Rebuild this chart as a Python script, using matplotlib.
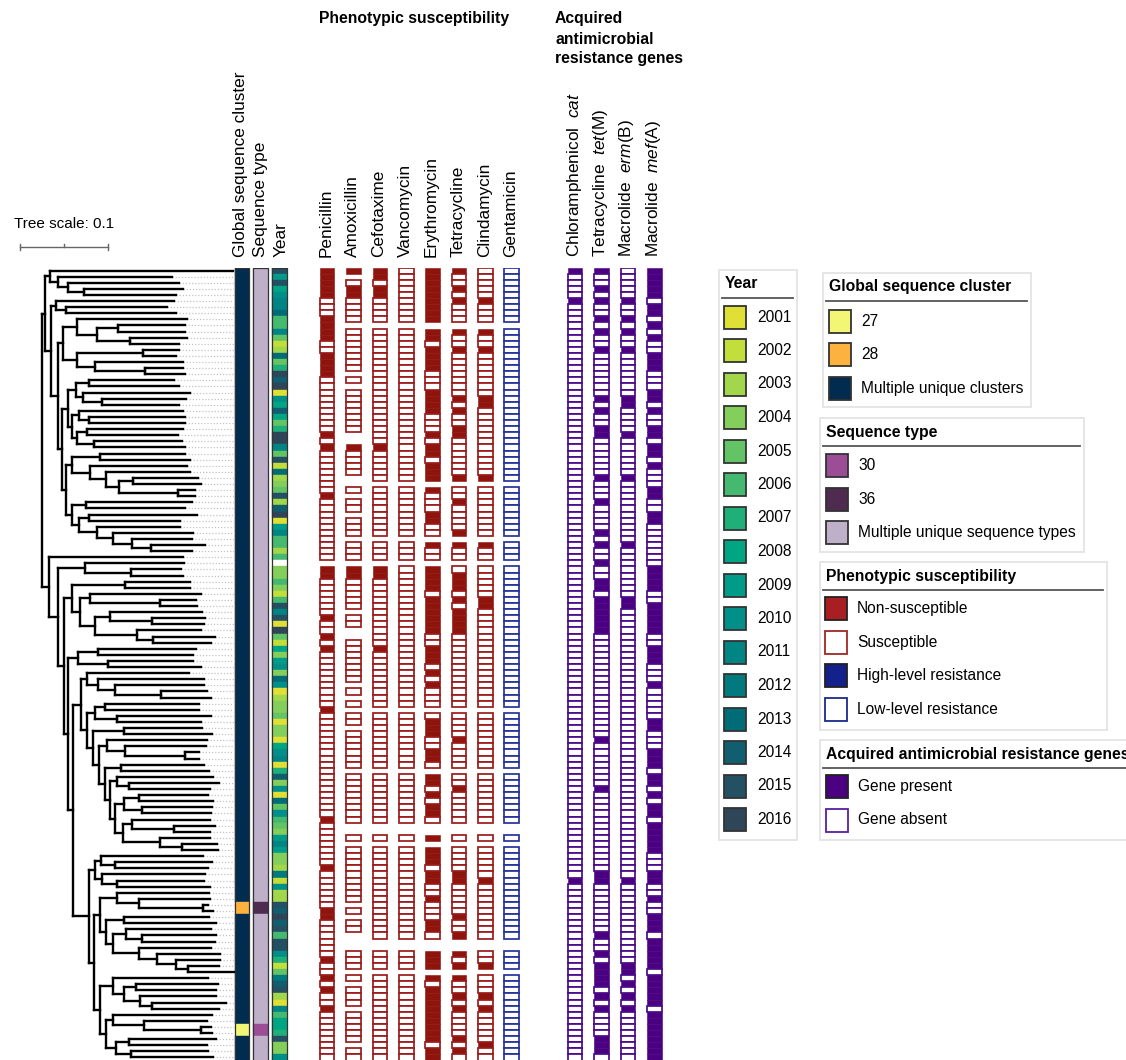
import matplotlib
matplotlib.use('Agg')
import matplotlib.pyplot as plt
from matplotlib.patches import Rectangle
from matplotlib.collections import LineCollection

plt.rcParams['font.family'] = ['Liberation Sans', 'DejaVu Sans']
plt.rcParams['mathtext.fontset'] = 'custom'
plt.rcParams['mathtext.it'] = 'Liberation Sans:italic'
plt.rcParams['mathtext.rm'] = 'Liberation Sans'

N_ROWS = 130

def runs(code):
    # "5R 3S 1." -> "RRRRRSSS."
    out = ''
    for tok in code.split():
        out += tok[-1] * int(tok[:-1])
    return out[:N_ROWS].ljust(N_ROWS, '.')

def n(depth, *kids):
    # internal tree node; leaves are plain depths (subst./site from root)
    return (depth, list(kids))

# ---------------- data ----------------
top_a = n(0.009, 0.217, n(0.018, 0.148, n(0.030, 0.156, n(0.048, 0.161, 0.153))))
c5_7 = n(0.016, 0.150, n(0.028, 0.142, 0.153))
c8_12 = n(0.040, 0.165, n(0.063, n(0.087, 0.163, 0.163), n(0.100, 0.165, 0.156)))
c13_17 = n(0.040, n(0.115, 0.156, 0.153), n(0.061, 0.160, n(0.117, 0.160, 0.163)))
c18_22 = n(0.039, n(0.054, 0.150, 0.156), n(0.047, 0.168, n(0.069, 0.164, 0.156)))
c23_29 = n(0.034, n(0.042, 0.161, n(0.054, 0.163, 0.163)),
           n(0.040, n(0.052, 0.160, 0.155), n(0.059, 0.159, 0.163)))
c30_37 = n(0.034, n(0.066, 0.163, 0.169),
           n(0.055, 0.165, n(0.073, 0.168, n(0.088, n(0.104, 0.178, 0.181), n(0.155, 0.174, 0.174)))))
c38_46 = n(0.034, n(0.050, 0.171, 0.163),
           n(0.042, n(0.054, 0.176, 0.157),
             n(0.063, 0.157, n(0.081, 0.172, n(0.103, 0.171, n(0.124, 0.185, 0.171))))))
clade_a = n(0.004, top_a,
            n(0.011, c5_7,
              n(0.018, n(0.024, c8_12, c13_17),
                n(0.023, n(0.030, c18_22, c23_29), n(0.028, c30_37, c38_46)))))

c48_50 = n(0.049, 0.162, n(0.102, 0.158, 0.160))
c51_61 = n(0.034, n(0.095, 0.169, 0.169),
           n(0.044, n(0.055, 0.181, n(0.134, 0.175, 0.176)),
             n(0.060, n(0.078, 0.182, n(0.125, 0.186, 0.184)),
               n(0.108, 0.181, n(0.127, 0.197, 0.192)))))
c62_65 = n(0.041, n(0.064, 0.175, 0.172), n(0.075, 0.172, 0.181))
c66_70 = n(0.051, 0.167, n(0.064, 0.184, n(0.083, 0.184, n(0.136, 0.188, 0.192))))
c71_74 = n(0.061, n(0.072, 0.179, 0.179), n(0.085, 0.192, 0.181))
c77_80 = n(0.074, 0.188, n(0.095, 0.187, n(0.163, 0.179, 0.179)))
c83_85 = n(0.085, 0.195, n(0.099, 0.201, 0.191))
c86_95 = n(0.083, n(0.094, n(0.111, 0.189, 0.195), n(0.114, 0.194, 0.192)),
           n(0.092, n(0.103, 0.191, n(0.150, 0.197, 0.191)),
             n(0.134, 0.191, n(0.159, 0.199, 0.200))))
c75_95 = n(0.058, n(0.093, 0.182, 0.194),
           n(0.065, c77_80, n(0.072, n(0.090, 0.184, 0.190), n(0.078, c83_85, c86_95))))
c66_95 = n(0.045, c66_70, n(0.051, c71_74, c75_95))
c96_101 = n(0.061, n(0.067, 0.183, n(0.083, 0.194, 0.189)),
            n(0.069, 0.185, n(0.086, 0.184, 0.191)))
c102_105 = n(0.085, 0.190, n(0.111, 0.191, n(0.183, 0.189, 0.195)))
c106_115 = n(0.073, n(0.093, 0.190, 0.198),
             n(0.081, n(0.096, 0.192, n(0.114, 0.198, 0.197)),
               n(0.110, 0.192, n(0.131, 0.203, n(0.153, 0.203, n(0.166, 0.202, 0.219))))))
c116_121 = n(0.081, 0.189, n(0.094, n(0.107, 0.200, 0.198),
                             n(0.112, 0.198, n(0.125, 0.209, 0.201))))
c122_129 = n(0.073, n(0.081, 0.193, n(0.116, 0.188, n(0.181, 0.192, 0.194))),
             n(0.084, n(0.099, 0.198, 0.188), n(0.101, 0.189, 0.195)))
c96_129 = n(0.054, c96_101, n(0.059, n(0.066, c102_105, c106_115), n(0.066, c116_121, c122_129)))
clade_b = n(0.008, 0.161,
            n(0.018, c48_50,
              n(0.025, c51_61,
                n(0.030, c62_65, n(0.036, c66_95, c96_129)))))
tree = n(0.0, clade_a, clade_b)

cluster = runs("104M 2B 18M 2A 4M")
seqtype = runs("104M 2D 18M 2C 4M")

years = [2015, 2009, 2015, 2008, 2010, 2011, 2011, 2013, 2006, 2006,
         2011, 2005, 2002, 2003, 2013, 2005, 2007, 2016, 2014, 2016,
         2001, 2010, 2008, 2014, 2008, 2005, 2007, 2016, 2016, 2011,
         2005, 2015, 2002, 2013, 2003, 2004, 2005, 2015, 2003, 2014,
         2016, 2001, 2009, 2011, 2006, 2006, 2003, 2006, 0, 2004,
         2004, 2006, 2004, 2002, 2006, 2015, 2011, 2015, 2001, 2016,
         2005, 2002, 2008, 2004, 2009, 2010, 2004, 2013, 2010, 2001,
         2003, 2004, 2004, 2005, 2001, 2004, 2004, 2001, 2008, 2010,
         2011, 2001, 2007, 2014, 2004, 2010, 2001, 2013, 2005, 2010,
         2006, 2005, 2004, 2009, 2011, 2009, 2004, 2004, 2003, 2012,
         2002, 2010, 2003, 2003, 2015, 2014, 2016, 2014, 2015, 2006,
         2015, 2015, 2010, 2007, 2002, 2005, 2012, 2014, 2015, 2003,
         2001, 2011, 2006, 2008, 2008, 2007, 2015, 2004, 2004, 2010]

# R = non-susceptible, S = susceptible, L = low-level resistance, . = no data
pheno_names = ['Penicillin', 'Amoxicillin', 'Cefotaxime', 'Vancomycin',
               'Erythromycin', 'Tetracycline', 'Clindamycin', 'Gentamicin']
penicillin = runs("5R 3S 4R 2S 4R 9S 1R 1S 1R 7S 1R 10S 1. 2R 6S 1R 2S 1R 1S 1R 9S 1R 17S 1R "
                  "7S 1R 6S 2R 6S 1R 2S 1R 1S 1R 2S 1R 8S")
amoxicillin = runs("1R 1. 1S 2R 4S 1. 7S 1. 1S 1. 7S 2. 1R 4S 2. 1S 1. 2S 1. 3S 1. 3S 1. 2R 5S 1. "
                   "2S 2. 7S 1. 1S 1. 1S 1. 2S 1. 6S 1. 8S 2. 1S 1. 9S 1. 1S 1. 2S 3. 3S 1. 1S 1. "
                   "3S 1. 5S 1. 2S")
cefotaxime = runs("2R 1S 2R 4S 1. 19S 1R 5S 1. 8S 1. 3S 1. 2R 11S 1R 9S 1. 9S 1. 8S 2. 1S 1. "
                  "15S 2. 3S 1. 14S")
vancomycin = runs("9S 1. 25S 1. 8S 1. 3S 1. 23S 1. 9S 1. 8S 2. 1S 1. 15S 2. 3S 1. 14S")
erythromycin = runs("9R 1. 2R 1S 4R 3S 4R 3S 1R 1S 2R 1S 3R 1. 1R 3S 2R 2S 1. 1R 2S 1. 4R 1S 6R "
                    "2S 3R 1S 1R 1S 1R 3S 1. 1S 3R 2S 2R 1S 1. 2R 1S 1R 1S 2R 1S 2. 1R 1. 3R 1S "
                    "2R 2S 1R 3S 2R 1S 2. 3R 1. 1R 1S 9R 1S 2R")
tetracycline = runs("1R 2S 1R 1S 1R 3S 1. 1R 2S 1R 7S 1R 1S 1R 2S 2R 6S 1R 1. 2S 1R 4S 1R 1. 1R "
                    "2S 1. 1S 3R 1S 1R 1S 4R 12S 1. 4S 1R 4S 1. 2S 1R 5S 2. 1S 1. 4S 2R 5S 1R 2S "
                    "1R 2. 1R 1S 1R 1. 1R 2S 1R 1S 1R 4S 1R 1S 1R 1S")
clindamycin = runs("5S 1R 3S 1. 1R 2S 1R 7S 2R 11S 1R 1. 8S 1. 1R 2S 1. 5S 2R 16S 1. 9S 1. 8S "
                   "2. 1S 1. 5S 1R 9S 2. 2S 1R 1. 3S 1R 1S 1R 5S 1R 2S")
gentamicin = runs("9L 1. 25L 1. 8L 1. 3L 1. 23L 1. 9L 1. 8L 2. 1L 1. 15L 2. 3L 1. 14L")
pheno = [penicillin, amoxicillin, cefotaxime, vancomycin,
         erythromycin, tetracycline, clindamycin, gentamicin]

# P = gene present, A = gene absent
gene_names = ['Chloramphenicol  $cat$', 'Tetracycline  $tet$(M)',
              'Macrolide  $erm$(B)', 'Macrolide  $mef$(A)']
cat_gene = runs("1P 4A 1P 94A 1P 29A")
tetM = runs("1P 2A 1P 1A 1P 2A 1P 1A 1P 2A 1P 7A 1P 1A 1P 2A 2P 6A 1P 3A 1P 4A 1P 1A 1P 2A "
            "1P 2A 2P 1A 6P 17A 1P 7A 1P 13A 2P 8A 1P 2A 1P 1A 4P 1A 1P 1A 1P 4A 3P 1A")
ermB = runs("5A 1P 2A 1P 1A 1P 2A 1P 7A 2P 4A 1P 6A 1P 10A 1P 8A 2P 44A 1P 13A 2P 1A 1P 1A "
            "1P 1A 1P 8A")
mefA = runs("5P 1A 2P 1A 1P 1A 1P 2A 3P 3A 2P 1A 1P 2A 2P 1A 2P 1A 1P 3A 2P 2A 2P 7A 4P 2A "
            "5P 2A 3P 3A 1P 5A 2P 3A 3P 1A 2P 1A 1P 1A 2P 1A 5P 3A 2P 2A 1P 2A 3P 1A 5P 1A "
            "5P 1A 8P")
genes = [cat_gene, tetM, ermB, mefA]

year_list = list(range(2001, 2017))
year_colors = ['#e0df36', '#c2de3b', '#a2d74b', '#84cf5b', '#63c466', '#45b96f',
               '#1faf79', '#00a584', '#009c89', '#009089', '#008584', '#00797f',
               '#006c78', '#105e6f', '#245064', '#2f4558']
cluster_labels = {'A': '27', 'B': '28', 'M': 'Multiple unique clusters'}
cluster_colors = {'A': '#f3f574', 'B': '#fdb240', 'M': '#022b50'}
seq_labels = {'C': '30', 'D': '36', 'M': 'Multiple unique sequence types'}
seq_colors = {'C': '#9b4e95', 'D': '#4f2b52', 'M': '#bdb0c8'}

# ---------------- layout ----------------
W, H = 1126, 1060
TOP = 267.5          # pixel row where the first row starts
PITCH = 6.1          # pixels per row
ROOT_X, PX_PER_UNIT = 41.7, 880
LEADER_END = 234
col_cluster, col_seq, col_year = 242.2, 260.7, 279.8
pheno_x0, gene_x0, col_step = 327, 575, 26.4
cell_w = 14.6

fig = plt.figure(figsize=(W / 100, H / 100), dpi=100)
ax = fig.add_axes([0, 0, 1, (H - TOP) / H])
ax.set_xlim(0, W)
ax.set_ylim(-0.5 + (H - TOP) / PITCH, -0.5)
ax.axis('off')

# ---- tree ----
segs, tips = [], []
counter = [0]

def X(d):
    return ROOT_X + PX_PER_UNIT * d

def layout(node, parent_d):
    if isinstance(node, tuple):
        d, kids = node
        ys = [layout(k, d) for k in kids]
        y = (ys[0] + ys[-1]) / 2
        segs.append([(X(d), ys[0]), (X(d), ys[-1])])
    else:
        d = node
        y = counter[0]
        counter[0] += 1
        tips.append((X(d), y))
    if parent_d is not None:
        segs.append([(X(parent_d), y), (X(d), y)])
    return y

layout(tree, None)
leaders = [[(tx, ty), (LEADER_END, ty)] for tx, ty in tips if tx < LEADER_END]
ax.add_collection(LineCollection(leaders, colors='#c4c4c4', linewidths=0.9,
                                 linestyles=(0, (1, 1.5))))
ax.add_collection(LineCollection(segs, colors='black', linewidths=1.7,
                                 capstyle='projecting'))

# ---- metadata strips ----
def strip(xc, w, colors):
    for i, c in enumerate(colors):
        ax.add_patch(Rectangle((xc - w / 2, i - 0.5), w, 1, fc=c, ec=c, lw=0.3))
    ax.add_patch(Rectangle((xc - w / 2, -0.5), w, len(colors), fc='none',
                           ec='#333333', lw=0.9))

strip(col_cluster, 13.7, [cluster_colors[c] for c in cluster])
strip(col_seq, 14.7, [seq_colors[c] for c in seqtype])
strip(col_year, 15, [year_colors[year_list.index(y)] if y else 'white' for y in years])

# ---- susceptibility / gene cells ----
cell_style = {
    'R': dict(fc='#8f140d', ec='#8f140d', lw=0.4),
    'S': dict(fc='white', ec='#9b1b1b', lw=1.25),
    'L': dict(fc='white', ec='#25329a', lw=1.25),
    'P': dict(fc='#4b0082', ec='#4b0082', lw=0.4),
    'A': dict(fc='white', ec='#4b0a8a', lw=1.25),
}

def cells(xc, col):
    for i, c in enumerate(col):
        if c == '.':
            continue
        ax.add_patch(Rectangle((xc - cell_w / 2, i - 0.5), cell_w, 1, **cell_style[c]))

for k, col in enumerate(pheno):
    cells(pheno_x0 + k * col_step, col)
for k, col in enumerate(genes):
    cells(gene_x0 + k * col_step, col)

# ---------------- overlay: headers, scale, legends ----------------
ov = fig.add_axes([0, 0, 1, 1])
ov.set_xlim(0, W)
ov.set_ylim(H, 0)
ov.axis('off')

label_fs = 12.4
header_y = 257
for xc, lab in [(col_cluster - 1.5, 'Global sequence cluster'), (col_seq, 'Sequence type'),
                (col_year + 1.5, 'Year')]:
    ov.text(xc, header_y, lab, rotation=90, ha='center', va='bottom', fontsize=label_fs)
for k, lab in enumerate(pheno_names):
    ov.text(pheno_x0 + k * col_step - 1, header_y, lab, rotation=90, ha='center',
            va='bottom', fontsize=label_fs)
for k, lab in enumerate(gene_names):
    ov.text(gene_x0 + k * col_step - 1, header_y, lab, rotation=90, ha='center',
            va='bottom', fontsize=label_fs)

ov.text(319, 18, 'Phenotypic susceptibility', fontweight='bold', fontsize=11.3,
        ha='left', va='center')
for line, yc in zip(['Acquired', 'antimicrobial', 'resistance genes'], [18, 39, 59]):
    ov.text(555, yc, line, fontweight='bold', fontsize=11.3, ha='left', va='center')

# tree scale
ov.text(14, 224, 'Tree scale: 0.1', fontsize=11, ha='left', va='center')
bar_x0, bar_y = 20, 247
bar_len = 0.1 * PX_PER_UNIT
ov.plot([bar_x0, bar_x0 + bar_len], [bar_y, bar_y], color='#666666', lw=1)
for tx, up, dn in [(bar_x0, 3, 3), (bar_x0 + bar_len / 2, 3, 0), (bar_x0 + bar_len, 3, 3)]:
    ov.plot([tx, tx], [bar_y - up, bar_y + dn], color='#666666', lw=1)

# legends
def legend_box(x0, y0, w, h, title, entries, sx, tx, first_y, step=33.5):
    ov.add_patch(Rectangle((x0, y0), w, h, fc='white', ec='#e2e2e2', lw=1.2))
    ov.text(x0 + 6, y0 + 14, title, fontweight='bold', fontsize=11.3, va='center')
    ov.plot([x0 + 3, x0 + w - 4], [y0 + 28, y0 + 28], color='#555555', lw=1.3)
    for k, (lab, fc, ec) in enumerate(entries):
        yc = first_y + k * step
        ov.add_patch(Rectangle((sx, yc - 11.5), 22, 23, fc=fc, ec=ec, lw=1.3))
        ov.text(tx, yc, lab, fontsize=11.2, va='center')

legend_box(719, 270, 78, 570, 'Year',
           [(str(y), c, '#333333') for y, c in zip(year_list, year_colors)],
           724, 757, 317)
legend_box(823, 273, 208, 134, 'Global sequence cluster',
           [(cluster_labels[k], cluster_colors[k], '#333333') for k in 'ABM'],
           829, 861, 321)
legend_box(820, 418, 264, 134, 'Sequence type',
           [(seq_labels[k], seq_colors[k], '#333333') for k in 'CDM'],
           826, 858, 465.5)
legend_box(820, 562, 287, 168, 'Phenotypic susceptibility',
           [('Non-susceptible', '#a81e22', '#222222'),
            ('Susceptible', 'white', '#a02626'),
            ('High-level resistance', '#14218a', '#222222'),
            ('Low-level resistance', 'white', '#1a2a8a')],
           825, 857, 608.5)
legend_box(820, 740, 320, 100, 'Acquired antimicrobial resistance genes',
           [('Gene present', '#4b0082', '#222222'),
            ('Gene absent', 'white', '#5a1e9e')],
           826, 858, 786.5)

fig.savefig('out.png', dpi=100)
